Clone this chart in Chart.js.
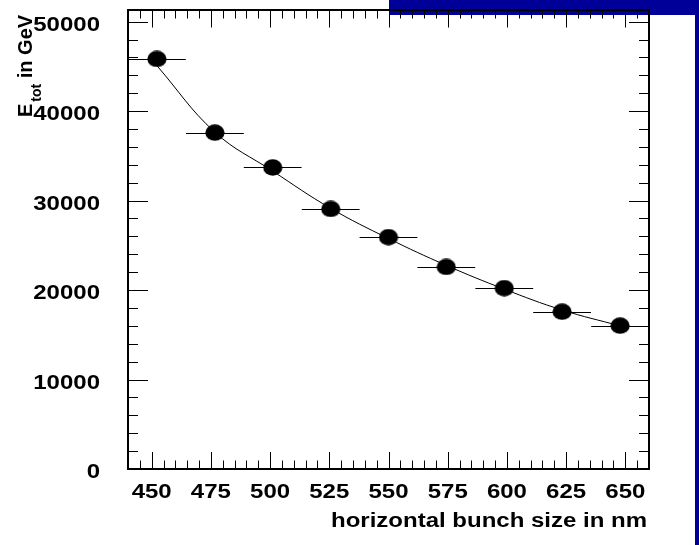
<!DOCTYPE html>
<html>
<head>
<meta charset="utf-8">
<script src="https://cdn.jsdelivr.net/npm/chart.js@4/dist/chart.umd.min.js"></script>
<style>
  html, body { margin: 0; padding: 0; background: #ffffff; }
  #wrap { width: 699px; height: 545px; position: relative; }
</style>
</head>
<body>
<div id="wrap"><canvas id="c" width="699" height="545"></canvas></div>
<script>
// ---- data ----
const binCenters = [452.2, 476.7, 501.1, 525.6, 550.0, 574.4, 598.9, 623.3, 647.8];
const binHalfWidth = [12.2, 12.2, 12.2, 12.2, 12.2, 12.2, 12.2, 12.2, 12.2];
const energyGeV = [45830, 37590, 33700, 29060, 25910, 22580, 20210, 17580, 16020];
// fitted curve at the bin centres
const fitGeV = [45080, 37640, 33300, 29130, 25760, 22760, 20100, 17770, 15990];
const xTickLabels = ['450', '475', '500', '525', '550', '575', '600', '625', '650'];
const yTickLabels = ['0', '10000', '20000', '30000', '40000', '50000'];
const xMinorTicks = [440,445,450,455,460,465,470,475,480,485,490,495,500,505,510,515,520,525,530,535,540,545,550,555,560,565,570,575,580,585,590,595,600,605,610,615,620,625,630,635,640,645,650,655,660];
const yMinorTicks = [0,2000,4000,6000,8000,10000,12000,14000,16000,18000,20000,22000,24000,26000,28000,30000,32000,34000,36000,38000,40000,42000,44000,46000,48000,50000];
const xTitle = 'horizontal bunch size in nm';
const yTitleMain = 'E';
const yTitleSub = 'tot';
const yTitleRest = ' in GeV';

const points = binCenters.map((x, i) => ({ x: x, y: energyGeV[i] }));
const fitPoints = binCenters.map((x, i) => ({ x: x, y: fitGeV[i] }));

// ellipse marker (reference markers are slightly wider than tall)
const marker = document.createElement('canvas');
marker.width = 20; marker.height = 17;
(function () {
  const m = marker.getContext('2d');
  m.fillStyle = '#000';
  m.beginPath();
  m.ellipse(10, 8.5, 9.6, 8.2, 0, 0, Math.PI * 2);
  m.fill();
})();

const FONT = '"Liberation Sans", Arial, Helvetica, sans-serif';

function stretchedText(ctx, text, x, y, align, sx) {
  ctx.save();
  ctx.translate(x, y);
  ctx.scale(sx, 1);
  ctx.textAlign = align;
  ctx.textBaseline = 'alphabetic';
  ctx.fillText(text, 0, 0);
  ctx.restore();
}

const rootStyle = {
  id: 'rootStyle',
  beforeDraw(chart) {
    const ctx = chart.ctx;
    ctx.save();
    ctx.fillStyle = '#ffffff';
    ctx.fillRect(0, 0, chart.width, chart.height);
    ctx.fillStyle = 'rgb(0,0,153)';
    ctx.fillRect(389, 0, 699 - 389, 15);
    ctx.fillRect(695, 0, 4, 545);
    ctx.restore();
  },
  beforeDatasetsDraw(chart) {
    const ctx = chart.ctx;
    const xs = chart.scales.x, ys = chart.scales.y;
    ctx.save();
    ctx.strokeStyle = '#000';
    ctx.lineWidth = 1;
    binCenters.forEach((c, i) => {
      const x0 = xs.getPixelForValue(c - binHalfWidth[i]);
      const x1 = xs.getPixelForValue(c + binHalfWidth[i]);
      const y = Math.round(ys.getPixelForValue(energyGeV[i])) + 0.5;
      ctx.beginPath();
      ctx.moveTo(x0, y);
      ctx.lineTo(x1, y);
      ctx.stroke();
    });
    ctx.restore();
  },
  afterDraw(chart) {
    const ctx = chart.ctx;
    const a = chart.chartArea;
    const xs = chart.scales.x, ys = chart.scales.y;
    ctx.save();
    ctx.strokeStyle = '#000';
    ctx.lineWidth = 1;
    // x ticks (bottom & top), inside the frame
    xMinorTicks.forEach(v => {
      const px = Math.round(xs.getPixelForValue(v)) + 0.5;
      const major = xTickLabels.indexOf(String(v)) >= 0;
      const lb = major ? 17 : 8.5;
      const lt = major ? 17.5 : 8.5;
      ctx.beginPath();
      ctx.moveTo(px, a.bottom); ctx.lineTo(px, a.bottom - lb);
      ctx.moveTo(px, a.top); ctx.lineTo(px, a.top + lt);
      ctx.stroke();
    });
    // y ticks (left & right)
    yMinorTicks.forEach(v => {
      const py = Math.round(ys.getPixelForValue(v)) + 0.5;
      const major = yTickLabels.indexOf(String(v)) >= 0;
      const l = major ? 20 : 10;
      ctx.beginPath();
      ctx.moveTo(a.left, py); ctx.lineTo(a.left + l, py);
      ctx.moveTo(a.right, py); ctx.lineTo(a.right - l, py);
      ctx.stroke();
    });
    // frame
    ctx.lineWidth = 2;
    ctx.strokeRect(a.left, a.top, a.right - a.left, a.bottom - a.top);

    // tick labels
    ctx.fillStyle = '#000';
    ctx.font = 'bold 20px ' + FONT;
    xTickLabels.forEach(t => {
      const px = xs.getPixelForValue(Number(t));
      stretchedText(ctx, t, px, 498, 'center', 1.2);
    });
    yTickLabels.forEach(t => {
      const py = ys.getPixelForValue(Number(t));
      stretchedText(ctx, t, 100, py + 9, 'right', 1.2);
    });
    // x title
    stretchedText(ctx, xTitle, 647, 527, 'right', 1.2);

    // y title, rotated, with subscript
    ctx.save();
    ctx.translate(32, 117);
    ctx.rotate(-Math.PI / 2);
    ctx.textAlign = 'left';
    ctx.textBaseline = 'alphabetic';
    ctx.font = 'bold 20px ' + FONT;
    ctx.fillText(yTitleMain, 0, 0);
    let off = ctx.measureText(yTitleMain).width + 2;
    ctx.font = 'bold 14px ' + FONT;
    ctx.fillText(yTitleSub, off, 9);
    off += ctx.measureText(yTitleSub).width;
    ctx.font = 'bold 20px ' + FONT;
    ctx.fillText(yTitleRest, off, 0);
    ctx.restore();

    ctx.restore();
  }
};

new Chart(document.getElementById('c'), {
  type: 'scatter',
  data: {
    datasets: [
      {
        label: 'fit',
        data: fitPoints,
        showLine: true,
        borderColor: '#000',
        borderWidth: 1,
        pointRadius: 0,
        pointHoverRadius: 0,
        tension: 0.4,
        fill: false,
        order: 2
      },
      {
        label: 'E_tot',
        data: points,
        showLine: false,
        pointStyle: marker,
        pointRadius: 9,
        order: 1
      }
    ]
  },
  options: {
    responsive: false,
    animation: false,
    devicePixelRatio: 1,
    layout: { padding: { left: 128, right: 50, top: 7, bottom: 76 } },
    plugins: { legend: { display: false }, tooltip: { enabled: false }, title: { display: false } },
    events: [],
    scales: {
      x: { type: 'linear', min: 440, max: 660, display: false },
      y: { type: 'linear', min: 0, max: 51300, display: false }
    }
  },
  plugins: [rootStyle]
});
</script>
</body>
</html>
